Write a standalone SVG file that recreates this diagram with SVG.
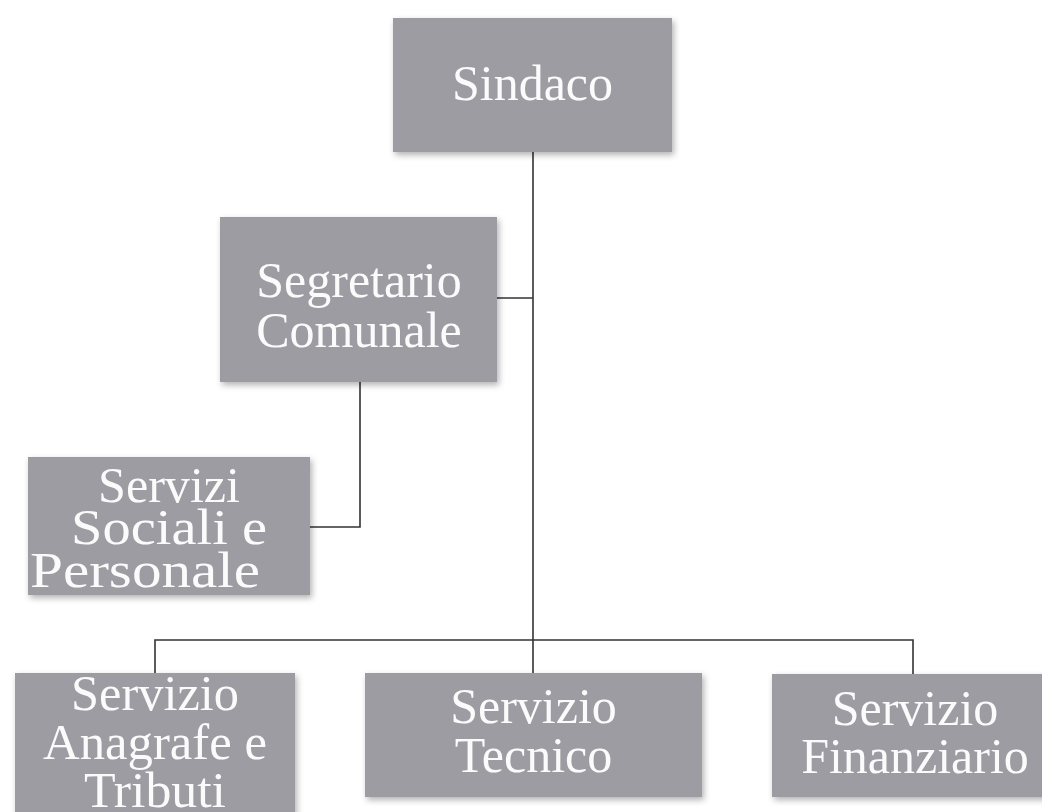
<svg xmlns="http://www.w3.org/2000/svg" width="1042" height="812" viewBox="0 0 1042 812">
<style>
.box{fill:#9d9ca3;filter:url(#sh);}
.t{font-family:"Liberation Serif","Times New Roman",serif;font-size:50px;fill:#fbfbfb;text-anchor:middle;}
.c{fill:none;stroke:#333;stroke-width:1.6;}
</style>
<defs>
<filter id="sh" x="-10%" y="-10%" width="130%" height="140%">
<feDropShadow dx="2" dy="3" stdDeviation="3" flood-color="#000" flood-opacity="0.3"/>
</filter>
</defs>
<rect width="1042" height="812" fill="#ffffff"/>
<g id="connectors">
<path class="c" d="M533,152 V673"/>
<path class="c" d="M497,298 H533"/>
<path class="c" d="M360,382 V527 H310"/>
<path class="c" d="M155,673 V640 H913 V674"/>
</g>
<g id="sindaco">
<rect class="box" x="393" y="18" width="279" height="134"/>
<text class="t" x="532.5" y="100">Sindaco</text>
</g>
<g id="segretario">
<rect class="box" x="220" y="217" width="277" height="165"/>
<text class="t" x="359" y="297">Segretario</text>
<text class="t" x="359" y="347">Comunale</text>
</g>
<g id="servizi-sociali">
<rect class="box" x="28" y="457" width="282" height="138"/>
<text class="t" x="169" y="502" font-size="46" textLength="142" lengthAdjust="spacingAndGlyphs">Servizi</text>
<text class="t" x="169" y="544" font-size="43" textLength="196" lengthAdjust="spacingAndGlyphs">Sociali e</text>
<text class="t" x="145" y="587" font-size="42" textLength="230" lengthAdjust="spacingAndGlyphs">Personale</text>
</g>
<g id="anagrafe">
<rect class="box" x="15" y="673" width="280" height="150"/>
<text class="t" x="155" y="710" font-size="48" textLength="168" lengthAdjust="spacingAndGlyphs">Servizio</text>
<text class="t" x="155" y="759" font-size="48" textLength="224" lengthAdjust="spacingAndGlyphs">Anagrafe e</text>
<text class="t" x="155" y="807" font-size="48" textLength="142" lengthAdjust="spacingAndGlyphs">Tributi</text>
</g>
<g id="tecnico">
<rect class="box" x="365" y="673" width="337" height="124"/>
<text class="t" x="533.5" y="723">Servizio</text>
<text class="t" x="533.5" y="772">Tecnico</text>
</g>
<g id="finanziario">
<rect class="box" x="772" y="674" width="290" height="123"/>
<text class="t" x="915" y="725">Servizio</text>
<text class="t" x="915" y="773">Finanziario</text>
</g>
</svg>
